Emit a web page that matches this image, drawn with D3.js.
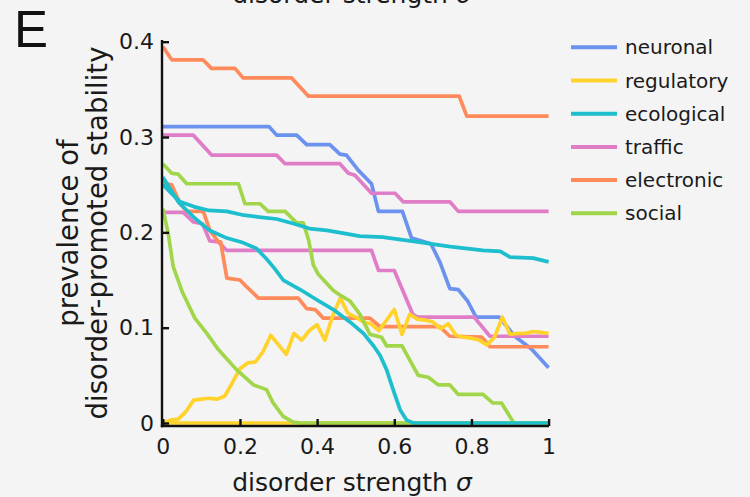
<!DOCTYPE html>
<html><head><meta charset="utf-8">
<script src="https://cdn.jsdelivr.net/npm/d3@7"></script>
<style>html,body{margin:0;padding:0;background:#f4f4f4;} svg{display:block;}</style>
</head><body><svg id="chart" width="750" height="497"></svg>
<script>
// Network classes shown in the legend, with their colours
const categories = ["neuronal", "regulatory", "ecological", "traffic", "electronic", "social"];
const colors = ["#6c92ef", "#ffd32b", "#1dbecd", "#e07dc7", "#ff8a5b", "#a1d64b"];

// Prevalence of disorder-promoted stability vs disorder strength σ, as [σ, prevalence]
const neuronalA = [[0,0.311],[0.275,0.311],[0.295,0.302],[0.347,0.302],[0.373,0.292],[0.433,0.292],[0.459,0.282],[0.476,0.281],[0.507,0.265],[0.541,0.251],[0.559,0.222],[0.621,0.222],[0.645,0.194],[0.695,0.188],[0.718,0.169],[0.744,0.141],[0.766,0.14],[0.79,0.128],[0.812,0.111],[0.872,0.111],[0.912,0.091],[0.955,0.078],[1.0,0.058]];
const trafficA = [[0,0.302],[0.079,0.302],[0.127,0.281],[0.295,0.281],[0.317,0.272],[0.459,0.272],[0.481,0.262],[0.498,0.26],[0.541,0.241],[0.602,0.241],[0.623,0.232],[0.744,0.232],[0.766,0.222],[1.0,0.222]];
const trafficB = [[0,0.221],[0.053,0.221],[0.079,0.211],[0.103,0.209],[0.122,0.191],[0.144,0.19],[0.166,0.181],[0.541,0.181],[0.559,0.16],[0.6,0.16],[0.648,0.114],[0.66,0.111],[0.807,0.111],[0.848,0.091],[1.0,0.091]];
const electronicA = [[0,0.395],[0.023,0.381],[0.104,0.381],[0.126,0.372],[0.187,0.372],[0.208,0.362],[0.334,0.362],[0.377,0.343],[0.768,0.343],[0.788,0.322],[1.0,0.322]];
const electronicB = [[0,0.252],[0.023,0.25],[0.045,0.23],[0.062,0.222],[0.105,0.222],[0.122,0.202],[0.144,0.19],[0.15,0.19],[0.166,0.152],[0.2,0.15],[0.217,0.143],[0.248,0.131],[0.351,0.131],[0.373,0.12],[0.395,0.119],[0.416,0.11],[0.537,0.11],[0.563,0.101],[0.718,0.101],[0.744,0.091],[0.827,0.09],[0.848,0.08],[1.0,0.08]];
const regulatoryA = [[0,0],[1.0,0]];
const regulatoryB = [[0,0],[0.02,0.003],[0.04,0.004],[0.06,0.012],[0.08,0.024],[0.10,0.025],[0.12,0.026],[0.14,0.025],[0.16,0.028],[0.18,0.042],[0.20,0.057],[0.22,0.063],[0.24,0.064],[0.26,0.075],[0.28,0.092],[0.30,0.082],[0.32,0.072],[0.34,0.094],[0.36,0.087],[0.38,0.097],[0.40,0.103],[0.42,0.087],[0.44,0.112],[0.46,0.131],[0.48,0.115],[0.50,0.111],[0.52,0.106],[0.54,0.104],[0.56,0.097],[0.58,0.108],[0.60,0.119],[0.62,0.093],[0.64,0.114],[0.66,0.109],[0.68,0.108],[0.70,0.106],[0.72,0.099],[0.74,0.104],[0.76,0.092],[0.78,0.09],[0.80,0.089],[0.82,0.087],[0.84,0.082],[0.86,0.09],[0.88,0.111],[0.90,0.093],[0.92,0.094],[0.94,0.094],[0.96,0.096],[0.98,0.095],[1.0,0.094]];
const socialA = [[0,0.272],[0.023,0.262],[0.04,0.261],[0.062,0.251],[0.196,0.251],[0.213,0.23],[0.252,0.23],[0.273,0.222],[0.317,0.222],[0.347,0.21],[0.364,0.21],[0.378,0.192],[0.39,0.166],[0.403,0.156],[0.442,0.139],[0.464,0.133],[0.485,0.128],[0.511,0.114],[0.537,0.093],[0.567,0.09],[0.58,0.081],[0.62,0.081],[0.662,0.05],[0.688,0.048],[0.714,0.04],[0.744,0.04],[0.766,0.03],[0.83,0.03],[0.855,0.021],[0.878,0.021],[0.91,0],[1.0,0]];
const socialB = [[0,0.225],[0.014,0.199],[0.027,0.164],[0.05,0.138],[0.083,0.11],[0.114,0.094],[0.144,0.077],[0.191,0.056],[0.235,0.04],[0.269,0.035],[0.286,0.021],[0.312,0.007],[0.338,0.001],[0.36,0],[1.0,0]];
const ecologicalA = [[0,0.25],[0.02,0.242],[0.045,0.232],[0.08,0.227],[0.12,0.223],[0.166,0.222],[0.21,0.218],[0.25,0.216],[0.295,0.214],[0.34,0.209],[0.38,0.204],[0.425,0.202],[0.47,0.199],[0.51,0.196],[0.57,0.195],[0.66,0.19],[0.745,0.185],[0.83,0.181],[0.875,0.18],[0.9,0.174],[0.96,0.173],[1.0,0.169]];
const ecologicalB = [[0,0.258],[0.02,0.245],[0.04,0.232],[0.06,0.224],[0.08,0.216],[0.1,0.209],[0.122,0.202],[0.166,0.194],[0.209,0.189],[0.243,0.183],[0.269,0.172],[0.29,0.162],[0.312,0.15],[0.356,0.14],[0.4,0.129],[0.442,0.119],[0.485,0.106],[0.52,0.094],[0.546,0.081],[0.563,0.071],[0.58,0.056],[0.597,0.035],[0.615,0.014],[0.632,0.003],[0.65,0],[1.0,0]];

// Axis ticks
const xTicks = [0, 0.2, 0.4, 0.6, 0.8, 1];
const xTickLabels = ["0", "0.2", "0.4", "0.6", "0.8", "1"];
const yTicks = [0, 0.1, 0.2, 0.3, 0.4];
const yTickLabels = ["0", "0.1", "0.2", "0.3", "0.4"];

// Drawing order (later series sit on top)
const series = [
  {cat: "neuronal", values: neuronalA},
  {cat: "traffic", values: trafficA},
  {cat: "traffic", values: trafficB},
  {cat: "electronic", values: electronicA},
  {cat: "electronic", values: electronicB},
  {cat: "regulatory", values: regulatoryA},
  {cat: "regulatory", values: regulatoryB},
  {cat: "social", values: socialA},
  {cat: "social", values: socialB},
  {cat: "ecological", values: ecologicalA},
  {cat: "ecological", values: ecologicalB}
];

const FONT = "'DejaVu Sans', sans-serif";
const svg = d3.select("#chart");
const color = d3.scaleOrdinal().domain(categories).range(colors);
const x = d3.scaleLinear().domain([0, 1]).range([162.8, 548.6]);
const y = d3.scaleLinear().domain([0, 0.4]).range([423, 41.7]);

svg.append("rect").attr("width", 750).attr("height", 497).attr("fill", "#f4f4f4");

// axis label of the panel above, cut by the top edge
svg.append("text").attr("x", 352).attr("y", 3).attr("text-anchor", "middle")
  .attr("font-family", FONT).attr("font-size", 25).attr("fill", "#1a1a1a")
  .text("disorder strength ").append("tspan").attr("font-style", "italic").text("σ");

// panel letter
svg.append("text").attr("x", 14).attr("y", 47).attr("font-family", "'Liberation Sans', Arial, sans-serif")
  .attr("font-size", 51).attr("fill", "#111").text("E");

// data lines
const line = d3.line().x(d => x(d[0])).y(d => y(d[1]));
svg.append("g").selectAll("path").data(series).join("path")
  .attr("d", d => line(d.values))
  .attr("fill", "none")
  .attr("stroke", d => color(d.cat))
  .attr("stroke-width", 3.7)
  .attr("stroke-linejoin", "round")
  .attr("stroke-linecap", "butt");

// y axis
const yAxis = svg.append("g").attr("transform", "translate(162,0)")
  .call(d3.axisLeft(y).tickValues(yTicks).tickFormat((d, i) => yTickLabels[i])
    .tickSizeInner(-7).tickSizeOuter(0).tickPadding(8));
yAxis.select(".domain").remove();
yAxis.selectAll(".tick line").attr("stroke", "#111").attr("stroke-width", 2.4);
yAxis.selectAll(".tick text").attr("font-family", FONT).attr("font-size", 22).attr("fill", "#1a1a1a");

// x axis
const xAxis = svg.append("g").attr("transform", "translate(0,426)")
  .call(d3.axisBottom(x).tickValues(xTicks).tickFormat((d, i) => xTickLabels[i])
    .tickSizeInner(-7).tickSizeOuter(0).tickPadding(12));
xAxis.select(".domain").remove();
xAxis.selectAll(".tick line").attr("stroke", "#111").attr("stroke-width", 2.4);
xAxis.selectAll(".tick text").attr("font-family", FONT).attr("font-size", 22).attr("fill", "#1a1a1a");

// axis lines
svg.append("line").attr("x1", 162).attr("x2", 162).attr("y1", 40).attr("y2", 427.2)
  .attr("stroke", "#111").attr("stroke-width", 2.4);
svg.append("line").attr("x1", 160.8).attr("x2", 549).attr("y1", 426).attr("y2", 426)
  .attr("stroke", "#111").attr("stroke-width", 2.4);

// axis titles
svg.append("text").attr("x", 352).attr("y", 491).attr("text-anchor", "middle")
  .attr("font-family", FONT).attr("font-size", 25).attr("fill", "#1a1a1a")
  .text("disorder strength ").append("tspan").attr("font-style", "italic").text("σ");
const yTitle = svg.append("text").attr("transform", "translate(0,233) rotate(-90)")
  .attr("text-anchor", "middle").attr("font-family", FONT).attr("font-size", 27.5).attr("fill", "#1a1a1a");
yTitle.append("tspan").attr("x", 0).attr("y", 78).text("prevalence of");
yTitle.append("tspan").attr("x", 0).attr("y", 107).text("disorder-promoted stability");

// legend
const legend = svg.append("g").selectAll("g").data(categories).join("g")
  .attr("transform", (d, i) => `translate(571,${47.3 + i * 33.2})`);
legend.append("line").attr("x1", 0).attr("x2", 46).attr("stroke", d => color(d)).attr("stroke-width", 4);
legend.append("text").attr("x", 54).attr("dy", "0.35em").attr("font-family", FONT)
  .attr("font-size", 20).attr("fill", "#1a1a1a").text(d => d);
</script></body></html>
